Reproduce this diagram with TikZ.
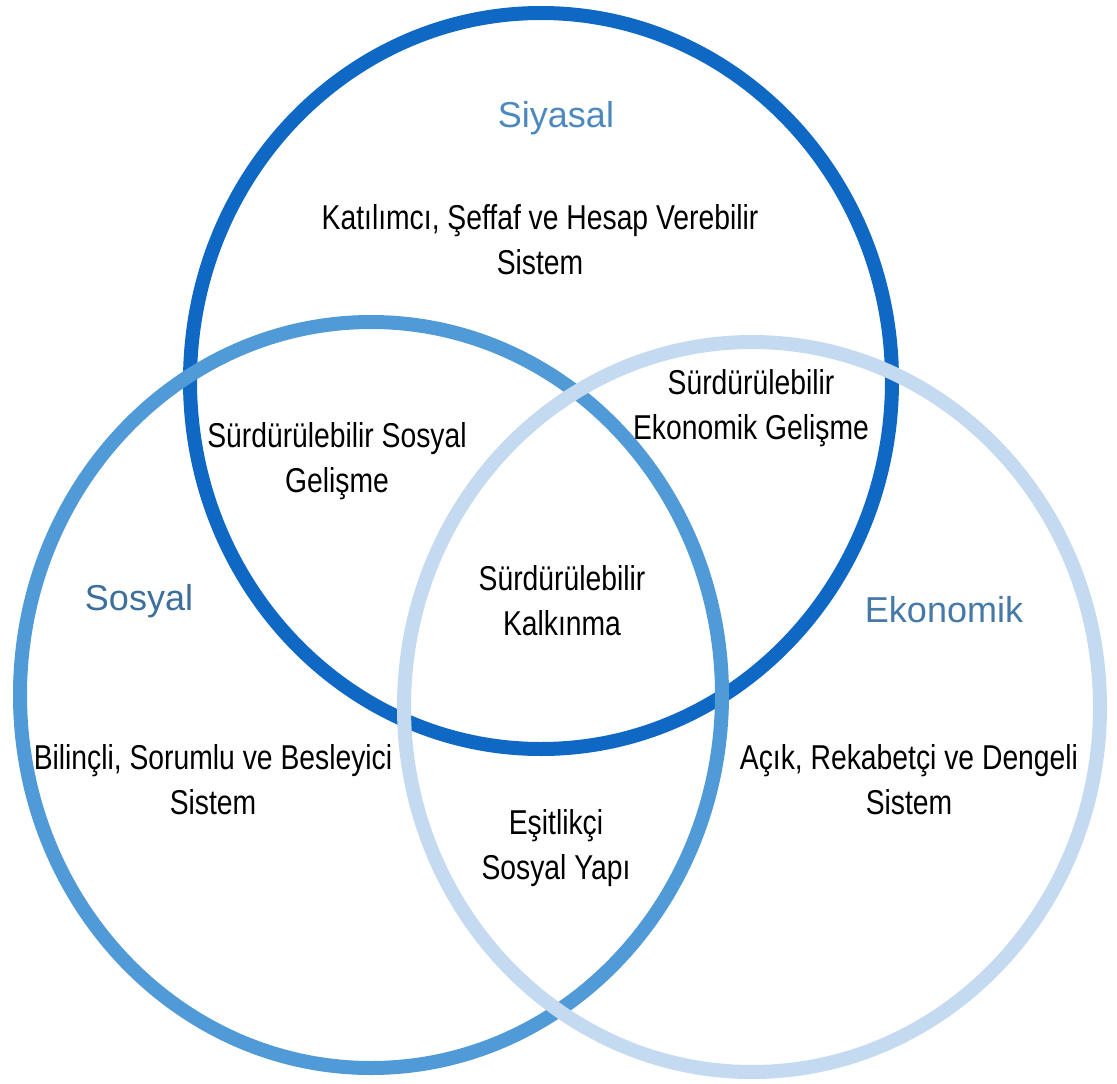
\documentclass[tikz,border=0pt]{standalone}
\usepackage{fontspec}
\setmainfont{Liberation Sans}
\newfontfamily\narrowfont[FakeStretch=0.82]{Liberation Sans}
\definecolor{cdark}{HTML}{0E68C4}
\definecolor{cmed}{HTML}{509AD8}
\definecolor{clight}{HTML}{C4DAF0}
\definecolor{csiy}{HTML}{4D88BF}
\definecolor{csos}{HTML}{3C6F9C}
\definecolor{ceko}{HTML}{4579A8}
\begin{document}
\begin{tikzpicture}[x=1pt,y=-1pt,
  ring/.style={line width=14pt},
  body/.style={font=\narrowfont\fontsize{34.5}{45}\selectfont, align=center, inner sep=0pt, text=black},
  title/.style={font=\fontsize{36}{40}\selectfont, inner sep=0pt, anchor=base}]
\useasboundingbox (0,0) rectangle (1117,1084);
\fill[white] (0,0) rectangle (1117,1084);
% circles (draw order: dark, medium, light)
\draw[ring, cdark] (541,381) ellipse [x radius=351pt, y radius=368pt];
\draw[ring, cmed] (371,695) ellipse [x radius=351pt, y radius=373pt];
\draw[ring, clight] (752,707) ellipse [x radius=348pt, y radius=365pt];
% titles
\node[title, text=csiy] (siyasal) at (556,127) {Siyasal};
\node[title, text=csos] (sosyal) at (139,610) {Sosyal};
\node[title, text=ceko] (ekonomik) at (944,622) {Ekonomik};
% body texts
\node[body] (siytext) at (540,240) {Katılımcı, Şeffaf ve Hesap Verebilir\\Sistem};
\node[body] (sosgel) at (337,461) {Sürdürülebilir Sosyal\\Gelişme};
\node[body] (ekogel) at (751,408) {Sürdürülebilir\\Ekonomik Gelişme};
\node[body] (kalk) at (562,601) {Sürdürülebilir\\Kalkınma};
\node[body] (sostext) at (213,780) {Bilinçli, Sorumlu ve Besleyici\\Sistem};
\node[body] (ekotext) at (909,780) {Açık, Rekabetçi ve Dengeli\\Sistem};
\node[body] (esit) at (556,848) {Eşitlikçi\\Sosyal Yapı};
\end{tikzpicture}
\end{document}
